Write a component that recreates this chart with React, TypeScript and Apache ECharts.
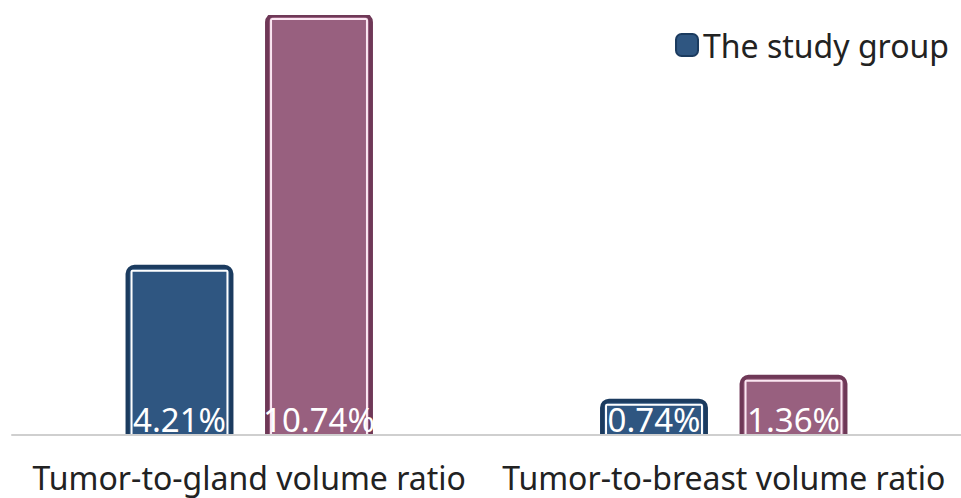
import React, { useEffect, useRef } from "react";
import * as echarts from "echarts";

const categories = ["Tumor-to-gland volume ratio", "Tumor-to-breast volume ratio"];
const studyGroup = [4.21, 0.74];
const controlGroup = [10.74, 1.36];
const seriesNames = ["The study group", "The control group"];

const FONT = "'Noto Sans', sans-serif";

const styles = [
  { fill: "#2f5681", outer: "#1b3b5f", inner: "#ffffff" },
  { fill: "#98607f", outer: "#6f3857", inner: "#fbe6f2" },
];

function makeRender(seriesIdx: number) {
  return (params: any, api: any) => {
    const cat = api.value(0);
    const val = api.value(1);
    const band = api.size([1, 0])[0];
    const center = api.coord([cat, 0])[0];
    const top = api.coord([cat, val])[1];
    const cs = params.coordSys;
    const bottom = cs.y + cs.height;
    const w = band * 0.219;
    const off = band * 0.147 * (seriesIdx === 0 ? -1 : 1);
    const x = center + off - w / 2;
    const st = styles[seriesIdx];
    return {
      type: "group",
      children: [
        {
          type: "rect",
          shape: { x: x, y: top, width: w, height: bottom - top + 6, r: 7 },
          style: { fill: st.fill, stroke: st.outer, lineWidth: 4 },
        },
        {
          type: "rect",
          shape: { x: x + 4, y: top + 4, width: w - 8, height: bottom - top, r: 1 },
          style: { fill: "none", stroke: st.inner, lineWidth: 2 },
        },
        {
          type: "text",
          style: {
            text: val.toFixed(2) + "%",
            x: x + w / 2,
            y: bottom + 1,
            fill: "#ffffff",
            font: "33px " + FONT,
            align: "center",
            verticalAlign: "bottom",
          },
        },
      ],
    };
  };
}

export default function App() {
  const ref = useRef<HTMLDivElement>(null);
  useEffect(() => {
    const chart = echarts.init(ref.current!, null, { renderer: "svg" });
    chart.setOption({
      animation: false,
      backgroundColor: "#ffffff",
      grid: { left: 12, right: -11, top: 15, bottom: 63 },
      legend: {
        data: [seriesNames[0]],
        right: 7,
        top: 24,
        itemWidth: 22,
        itemHeight: 22,
        itemGap: 4,
        icon: "roundRect",
        textStyle: { fontSize: 32, fontFamily: FONT, color: "#222" },
        itemStyle: { borderColor: styles[0].outer, borderWidth: 2 },
      },
      xAxis: {
        type: "category",
        data: categories,
        axisTick: { show: false },
        axisLine: { show: true, onZero: false, lineStyle: { color: "#cfcfcf", width: 2 } },
        axisLabel: { interval: 0, fontSize: 32, lineHeight: 34, fontFamily: FONT, color: "#222", margin: 25 },
        z: 10,
      },
      yAxis: {
        type: "value",
        min: -0.15,
        max: 10.74,
        show: false,
        splitLine: { show: false },
      },
      series: [
        {
          type: "custom",
          name: seriesNames[0],
          itemStyle: { color: styles[0].fill, borderColor: styles[0].outer },
          renderItem: makeRender(0),
          data: studyGroup.map((v, i) => [i, v]),
          encode: { x: 0, y: 1 },
          clip: true,
        },
        {
          type: "custom",
          name: seriesNames[1],
          itemStyle: { color: styles[1].fill, borderColor: styles[1].outer },
          renderItem: makeRender(1),
          data: controlGroup.map((v, i) => [i, v]),
          encode: { x: 0, y: 1 },
          clip: true,
        },
      ],
    });
    return () => chart.dispose();
  }, []);
  return <div ref={ref} style={{ width: 961, height: 498, position: "absolute", left: 0, top: 0 }} />;
}
